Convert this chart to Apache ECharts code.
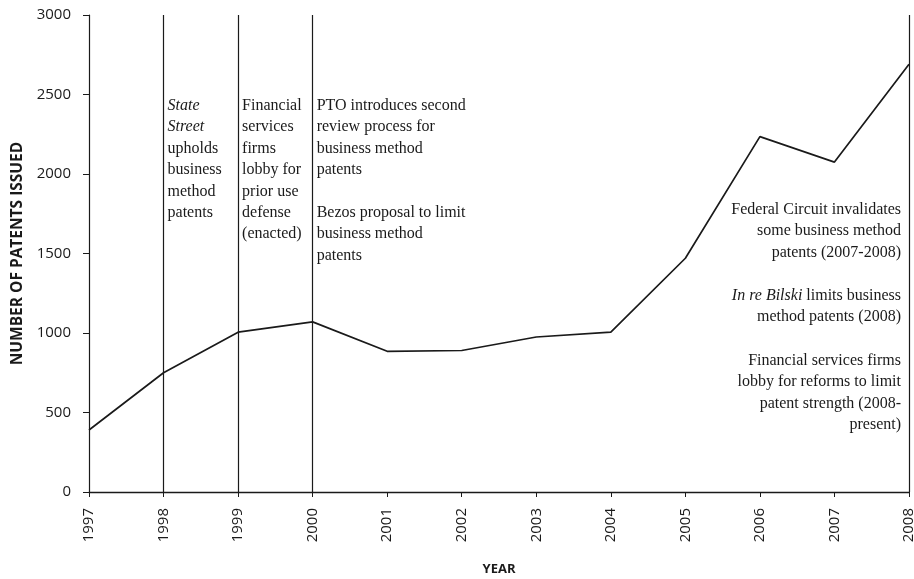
<!DOCTYPE html>
<html>
<head>
<meta charset="utf-8">
<script src="https://cdn.jsdelivr.net/npm/echarts@6/dist/echarts.min.js"></script>
<style>
  html, body { margin: 0; padding: 0; background: #fff; }
  #chart { width: 914px; height: 579px; }
</style>
</head>
<body>
<div id="chart"></div>
<script>
// data
const years = ['1997', '1998', '1999', '2000', '2001', '2002', '2003', '2004', '2005', '2006', '2007', '2008']
const patents = [390, 750, 1005, 1070, 885, 890, 975, 1005, 1470, 2235, 2075, 2690]
const eventYears = ['1998', '1999', '2000', '2008']

const ink = '#1a1a1a'
const serif = '"Liberation Serif", "DejaVu Serif", serif'
const sans = '"Open Sans", "DejaVu Sans", sans-serif'

const chart = echarts.init(document.getElementById('chart'))

chart.setOption({
  backgroundColor: '#fff',
  animation: false,
  grid: { left: 89, right: 5, top: 15, bottom: 87, containLabel: false, outerBoundsMode: 'none' },
  xAxis: {
    type: 'category',
    data: years,
    boundaryGap: false,
    name: 'YEAR',
    nameLocation: 'middle',
    nameGap: 71,
    nameTextStyle: { fontFamily: sans, fontWeight: 'bold', fontSize: 13, color: ink },
    axisLine: { lineStyle: { color: ink, width: 1.4 } },
    axisTick: { show: true, length: 5, lineStyle: { color: ink } },
    axisLabel: { rotate: 90, margin: 16, fontFamily: sans, fontSize: 15, color: ink, interval: 0 },
    splitLine: { show: false }
  },
  yAxis: {
    type: 'value',
    min: 0,
    max: 3000,
    interval: 500,
    name: 'NUMBER OF PATENTS ISSUED',
    nameLocation: 'middle',
    nameGap: 62,
    nameTextStyle: { fontFamily: sans, fontWeight: 'bold', fontSize: 15.5, color: ink },
    axisLine: { show: true, lineStyle: { color: ink, width: 1.2 } },
    axisTick: { show: true, length: 6, lineStyle: { color: ink } },
    axisLabel: { margin: 18, fontFamily: sans, fontSize: 15, color: ink, formatter: v => String(v) },
    splitLine: { show: false }
  },
  series: [{
    type: 'line',
    data: patents,
    symbol: 'none',
    lineStyle: { color: ink, width: 1.7 },
    markLine: {
      silent: true,
      symbol: 'none',
      label: { show: false },
      lineStyle: { color: ink, width: 1.2, type: 'solid' },
      data: eventYears.map(y => ({ xAxis: y }))
    }
  }]
})

// annotation text next to the event lines
const fs = 16
const lh = 21.4
const px = y => chart.convertToPixel({ xAxisIndex: 0 }, y)
const noteTop = 95
const base = { fontFamily: serif, fontSize: fs, lineHeight: lh, fill: ink }
const rich = {
  i: { fontFamily: serif, fontSize: fs, fontStyle: 'italic', lineHeight: lh, fill: ink },
  n: { fontFamily: serif, fontSize: fs, lineHeight: lh, fill: ink }
}
const rightEdge = 901

chart.setOption({
  graphic: [
    {
      type: 'text', x: px('1998') + 4, y: noteTop,
      style: Object.assign({}, base, {
        text: '{i|State}\n{i|Street}\n{n|upholds}\n{n|business}\n{n|method}\n{n|patents}',
        rich: rich
      })
    },
    {
      type: 'text', x: px('1999') + 4, y: noteTop,
      style: Object.assign({}, base, {
        text: 'Financial\nservices\nfirms\nlobby for\nprior use\ndefense\n(enacted)'
      })
    },
    {
      type: 'text', x: px('2000') + 4, y: noteTop,
      style: Object.assign({}, base, {
        text: 'PTO introduces second\nreview process for\nbusiness method\npatents\n\nBezos proposal to limit\nbusiness method\npatents'
      })
    },
    {
      type: 'text', x: rightEdge, y: 199,
      style: Object.assign({}, base, {
        align: 'right',
        text: 'Federal Circuit invalidates\nsome business method\npatents (2007-2008)'
      })
    },
    {
      type: 'text', x: rightEdge, y: 285,
      style: Object.assign({}, base, {
        align: 'right',
        text: '{i|In re Bilski}{n| limits business}\n{n|method patents (2008)}',
        rich: rich
      })
    },
    {
      type: 'text', x: rightEdge, y: 350,
      style: Object.assign({}, base, {
        align: 'right',
        text: 'Financial services firms\nlobby for reforms to limit\npatent strength (2008-\npresent)'
      })
    }
  ]
})
</script>
</body>
</html>
